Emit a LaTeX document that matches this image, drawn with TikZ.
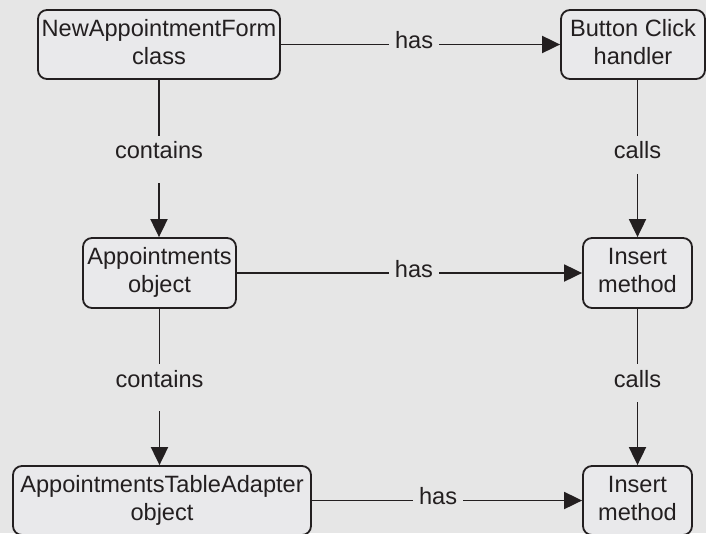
\documentclass[tikz,border=0pt]{standalone}
\usepackage{fontspec}
\setmainfont{Liberation Sans}
\usetikzlibrary{arrows.meta}
\definecolor{bgcol}{HTML}{E6E6E6}
\definecolor{boxfill}{HTML}{E9E9EB}
\definecolor{ink}{HTML}{231F20}
\begin{document}
\begin{tikzpicture}[x=1pt,y=-1pt,
  every node/.style={font=\fontsize{23.6}{28}\selectfont, text=ink},
  classbox/.style={draw=ink, line width=1.8pt, fill=boxfill, rounded corners=9pt,
    align=center, inner sep=0pt},
  link/.style={draw=ink, line width=1.9pt, -{Triangle[length=18pt,width=17pt]}},
  hlab/.style={fill=bgcol, inner xsep=6pt, inner ysep=2pt, anchor=base, yshift=-4pt},
  vlab/.style={fill=bgcol, inner xsep=4pt, inner ysep=6pt, text height=17pt,
    text depth=#1, anchor=base},
  vlab/.default=18pt]
  \useasboundingbox (0,0) rectangle (706,533);
  \fill[bgcol] (0,0) rectangle (706,533);

  % classes and members
  \node[classbox, minimum width=242pt, minimum height=69pt] (form) at (159,44.5)
    {\strut NewAppointmentForm\\\strut class};
  \node[classbox, minimum width=144pt, minimum height=69pt] (click) at (633,44.5)
    {\strut Button Click\\\strut handler};
  \node[classbox, minimum width=153pt, minimum height=70pt] (appt) at (159.5,273)
    {\strut Appointments\\\strut object};
  \node[classbox, minimum width=109pt, minimum height=70pt] (ins1) at (637.5,273)
    {\strut Insert\\\strut method};
  \node[classbox, minimum width=298pt, minimum height=69pt] (adapter) at (162,500.5)
    {\strut AppointmentsTableAdapter\\\strut object};
  \node[classbox, minimum width=109pt, minimum height=69pt] (ins2) at (637.5,500.5)
    {\strut Insert\\\strut method};

  % "has" relations
  \draw[link] (form.east) -- node[hlab, pos=0.477] {has} (click.west);
  \draw[link] (appt.east) -- node[hlab, pos=0.513] {has} (ins1.west);
  \draw[link] (adapter.east) -- node[hlab, pos=0.467] {has} (ins2.west);

  % "contains" relations
  \draw[link] (form.south) -- node[vlab] {contains} (form.south |- appt.north);
  \draw[link] (appt.south) -- node[vlab] {contains} (appt.south |- adapter.north);

  % "calls" relations
  \draw[link] (click.south -| ins1.north) -- node[vlab=9pt] {calls} (ins1.north);
  \draw[link] (ins1.south) -- node[vlab=9pt] {calls} (ins2.north);
\end{tikzpicture}
\end{document}
